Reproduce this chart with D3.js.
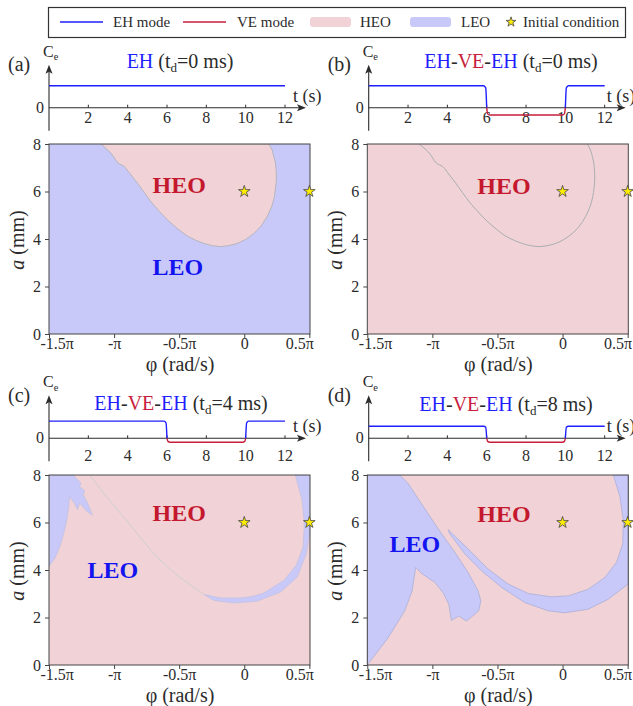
<!DOCTYPE html>
<html>
<head>
<meta charset="utf-8">
<script src="https://cdn.jsdelivr.net/npm/d3@7"></script>
<style>
  body { margin: 0; background: #fff; }
  text { font-family: "Liberation Serif", "Times New Roman", serif; fill: #2b2b2b; }
</style>
</head>
<body>
<svg id="chart" width="633" height="706"></svg>
<script>
// ---- control signal C_e(t), one series per panel ----
const tA = [0, 12];
const ceA = [1, 1];
const tSwitch = [0, 5.85, 5.95, 6.0, 6.05, 6.15, 9.85, 9.95, 10.0, 10.05, 10.15, 12];
const ceB = [1, 1, 0.9, 0, -0.28, -0.33, -0.33, -0.28, 0, 0.9, 1, 1];
const ceC = [0.78, 0.78, 0.7, 0, -0.14, -0.18, -0.18, -0.14, 0, 0.7, 0.78, 0.78];
const ceD = [0.55, 0.55, 0.5, 0, -0.14, -0.18, -0.18, -0.14, 0, 0.5, 0.55, 0.55];
const tTicks = [2, 4, 6, 8, 10, 12];

// ---- basin axes ----
const phiTicks = [-1.5, -1, -0.5, 0, 0.5];
const phiLabels = ["-1.5\u03c0", "-\u03c0", "-0.5\u03c0", "0", "0.5\u03c0"];
const aTicks = [0, 2, 4, 6, 8];
const initial = [[0, 6], [0.5, 6]];   // (phi/pi, a)

// ---- basin boundaries, (phi/pi, a mm) ----
const heoA = [[-1.1, 8], [-1.023, 7.61], [-0.97, 7.2], [-0.921, 7.05], [-0.87, 6.7], [-0.819, 6.34], [-0.717, 5.57],
  [-0.65, 5.15], [-0.589, 4.8], [-0.51, 4.42], [-0.436, 4.12], [-0.37, 3.94], [-0.309, 3.81], [-0.245, 3.72], [-0.181, 3.68],
  [-0.12, 3.72], [-0.054, 3.81], [0.01, 3.98], [0.074, 4.23], [0.13, 4.55], [0.176, 4.94], [0.21, 5.35], [0.232, 5.78],
  [0.247, 6.48], [0.245, 6.85], [0.24, 7.19], [0.214, 7.75], [0.19, 8]];

const leoC1 = [[-1.5, 8], [-1.311, 8], [-1.29, 7.85], [-1.254, 7.66], [-1.265, 7.52], [-1.226, 7.33], [-1.238, 7.19],
  [-1.208, 6.86], [-1.165, 6.3], [-1.221, 6.54], [-1.265, 6.82], [-1.28, 6.54], [-1.311, 6.86], [-1.342, 7.1],
  [-1.349, 6.65], [-1.36, 6.2], [-1.375, 5.81], [-1.395, 5.38], [-1.418, 4.96], [-1.455, 4.5], [-1.5, 4.15]];
const leoC2 = [[0.393, 8], [0.444, 6.94], [0.462, 5.96], [0.452, 4.97], [0.4, 4.2], [0.304, 3.56], [0.151, 3.03],
  [0.06, 2.88], [-0.028, 2.82], [-0.181, 2.82], [-0.309, 2.97], [-0.232, 2.72], [-0.079, 2.61], [0.099, 2.69],
  [0.278, 3.07], [0.406, 3.7], [0.477, 4.69], [0.5, 5.5], [0.505, 8]];
const edgeC = [[-1.189, 8], [-1.099, 7.37], [-0.972, 6.52], [-0.844, 5.68], [-0.717, 4.83], [-0.589, 4.13],
  [-0.462, 3.56], [-0.309, 2.97]];

const leoD1 = [[-1.5, 8], [-1.5, 0], [-1.341, 1.14], [-1.213, 2.28], [-1.156, 3.12], [-1.128, 4.11], [-1.085, 3.86],
  [-0.982, 3.48], [-0.918, 3.05], [-0.874, 2.56], [-0.854, 1.88], [-0.797, 2.06], [-0.738, 1.85], [-0.644, 2.28],
  [-0.628, 2.7], [-0.649, 3.12], [-0.726, 3.9], [-0.828, 4.75], [-0.956, 5.74], [-1.085, 6.8], [-1.187, 7.65], [-1.251, 8]];
const leoD2 = [[0.39, 8], [0.441, 7.08], [0.467, 6.09], [0.462, 5.1], [0.415, 4.33], [0.326, 3.69], [0.197, 3.19],
  [0.044, 2.91], [-0.085, 2.87], [-0.264, 3.01], [-0.418, 3.41], [-0.572, 4.04], [-0.726, 4.89], [-0.879, 5.7],
  [-0.867, 5.53], [-0.751, 4.68], [-0.623, 3.97], [-0.469, 3.27], [-0.29, 2.63], [-0.11, 2.28], [0.018, 2.2],
  [0.197, 2.35], [0.351, 2.77], [0.505, 3.41], [0.505, 8]];

const LEO_FILL = "#c9c9f9", HEO_FILL = "#f1d2d6", EDGE = "#a9aeb2";
const BLUE = "#1f1fff", RED = "#c81e3c", HEO_TXT = "#c4182f", LEO_TXT = "#1414f0", INK = "#2b2b2b";

const eh = [{ s: "EH", c: BLUE }];
const eve = [{ s: "EH", c: BLUE }, { s: "-" }, { s: "VE", c: RED }, { s: "-" }, { s: "EH", c: BLUE }];

const panels = [
  { tag: "(a)", col: 0, row: 0, t: tA, ce: ceA, head: eh, td: "0", tx: 180, ty: 68,
    bg: LEO_FILL, fills: [{ pts: heoA, fill: HEO_FILL, edge: EDGE }], edges: [], heo: [-0.5, 6.27], leo: [-0.51, 2.82] },
  { tag: "(b)", col: 1, row: 0, t: tSwitch, ce: ceB, head: eve, td: "0", tx: 511, ty: 68,
    bg: HEO_FILL, fills: [], edges: [{ pts: heoA, c: EDGE }], heo: [-0.45, 6.23], leo: null },
  { tag: "(c)", col: 0, row: 1, t: tSwitch, ce: ceC, head: eve, td: "4", tx: 181, ty: 410,
    bg: HEO_FILL, fills: [{ pts: leoC1, fill: LEO_FILL, edge: "#c2c2e2" }, { pts: leoC2, fill: LEO_FILL, edge: "#c2c2e2" }],
    edges: [{ pts: edgeC, c: "#cdd0d2" }], heo: [-0.5, 6.4], leo: [-1.01, 4.03] },
  { tag: "(d)", col: 1, row: 1, t: tSwitch, ce: ceD, head: eve, td: "8", tx: 506, ty: 411,
    bg: HEO_FILL, fills: [{ pts: leoD1, fill: LEO_FILL, edge: "#aab0d8" }, { pts: leoD2, fill: LEO_FILL, edge: "#aab0d8" }],
    edges: [], heo: [-0.45, 6.39], leo: [-1.135, 5.1] }
];

const svg = d3.select("#chart");
svg.append("rect").attr("width", 633).attr("height", 706).attr("fill", "#fff");

// ---- legend ----
const lg = svg.append("g");
lg.append("rect").attr("x", 48.5).attr("y", 7.5).attr("width", 577).attr("height", 30)
  .attr("fill", "#fff").attr("stroke", "#333").attr("stroke-width", 1.2);
lg.append("line").attr("x1", 60).attr("x2", 103).attr("y1", 22).attr("y2", 22).attr("stroke", BLUE).attr("stroke-width", 1.5);
lg.append("text").attr("x", 113).attr("y", 27).attr("font-size", 15).text("EH mode");
lg.append("line").attr("x1", 183).attr("x2", 226).attr("y1", 22).attr("y2", 22).attr("stroke", RED).attr("stroke-width", 1.5);
lg.append("text").attr("x", 237).attr("y", 27).attr("font-size", 15).text("VE mode");
lg.append("rect").attr("x", 310).attr("y", 17).attr("width", 41).attr("height", 10).attr("rx", 3).attr("fill", HEO_FILL);
lg.append("text").attr("x", 360).attr("y", 27).attr("font-size", 15).text("HEO");
lg.append("rect").attr("x", 410).attr("y", 17).attr("width", 41).attr("height", 10).attr("rx", 3).attr("fill", LEO_FILL);
lg.append("text").attr("x", 461).attr("y", 27).attr("font-size", 15).text("LEO");
lg.append("path").attr("d", d3.symbol(d3.symbolStar, 30)()).attr("transform", "translate(511,22)")
  .attr("fill", "#ffee00").attr("stroke", "#444").attr("stroke-width", 0.8);
lg.append("text").attr("x", 523).attr("y", 27).attr("font-size", 15).text("Initial condition");

// split a signal into sign-coloured pieces at its zero crossings
function pieces(t, ce) {
  const out = [];
  let cur = [[t[0], ce[0]]], sign = Math.sign(ce[0]);
  for (let i = 1; i < t.length; i++) {
    const p = [t[i], ce[i]];
    cur.push(p);
    if (ce[i] === 0 && i < t.length - 1) {
      out.push({ sign, pts: cur });
      cur = [p];
      sign = Math.sign(ce[i + 1]);
    }
  }
  out.push({ sign, pts: cur });
  return out;
}

function richText(sel, parts, size) {
  parts.forEach(p => {
    const ts = sel.append("tspan").text(p.s);
    if (p.c) ts.style("fill", p.c);
    if (p.sub) ts.attr("font-size", size * 0.65).attr("dy", size * 0.2);
    if (p.back) ts.attr("dy", -size * 0.2);
  });
}

panels.forEach((P, k) => {
  const bx = P.col ? 367.3 : 49;       // basin left
  const by = P.row ? 475 : 144;        // basin top
  const ox = P.col ? 368.7 : 49;       // time axis origin
  const oy = P.row ? 438.3 : 107.7;
  const dy = P.row ? 331 : 0;

  // ---------- time strip ----------
  const g = svg.append("g");
  const xt = d3.scaleLinear().domain([0, 12]).range([ox, ox + 236]);
  const yc = d3.scaleLinear().domain([-1, 1]).range([oy + 22, oy - 22]);

  g.append("line").attr("x1", ox).attr("x2", ox + 250).attr("y1", oy).attr("y2", oy).attr("stroke", INK).attr("stroke-width", 1.1);
  g.append("path").attr("d", `M${ox + 257},${oy} L${ox + 248},${oy - 3.5} L${ox + 250},${oy} L${ox + 248},${oy + 3.5} Z`).attr("fill", INK);
  g.append("line").attr("x1", ox).attr("x2", ox).attr("y1", oy + 23).attr("y2", oy - 36).attr("stroke", INK).attr("stroke-width", 1.1);
  g.append("path").attr("d", `M${ox},${oy - 43} L${ox - 3.5},${oy - 34} L${ox},${oy - 36} L${ox + 3.5},${oy - 34} Z`).attr("fill", INK);

  const labY = P.row ? oy + 23 : oy + 15.5;
  tTicks.forEach(v => {
    g.append("line").attr("x1", xt(v)).attr("x2", xt(v)).attr("y1", oy).attr("y2", oy - 3).attr("stroke", INK);
    g.append("text").attr("x", xt(v)).attr("y", labY).attr("text-anchor", "middle").attr("font-size", 16).text(v);
  });
  g.append("text").attr("x", ox - 5).attr("y", oy + 5).attr("text-anchor", "end").attr("font-size", 16).text("0");
  g.append("text").attr("x", P.col ? 606.7 : 293).attr("y", oy - 6).attr("font-size", 18).text("t (s)");
  richText(g.append("text").attr("x", ox - 6).attr("y", oy - 51).attr("font-size", 16),
    [{ s: "C" }, { s: "e", sub: true }], 16);
  g.append("text").attr("x", ox - 41).attr("y", 71 + dy).attr("font-size", 20).text(P.tag);

  const title = g.append("text").attr("x", P.tx).attr("y", P.ty).attr("text-anchor", "middle").attr("font-size", 20);
  richText(title, [...P.head, { s: " (t" }, { s: "d", sub: true }, { s: "=" + P.td + " ms)", back: true }], 20);

  const line = d3.line().x(d => xt(d[0])).y(d => yc(d[1])).curve(d3.curveMonotoneX);
  pieces(P.t, P.ce).forEach(s => {
    g.append("path").attr("d", line(s.pts)).attr("fill", "none")
      .attr("stroke", s.sign < 0 ? RED : BLUE).attr("stroke-width", 1.4);
  });

  // ---------- basin ----------
  const x = d3.scaleLinear().domain([-1.5, 0.505]).range([bx, bx + 261]);
  const y = d3.scaleLinear().domain([0, 8]).range([by + 190, by]);
  const b = svg.append("g");
  const cid = "clip" + k;
  b.append("clipPath").attr("id", cid).append("rect")
    .attr("x", bx).attr("y", by).attr("width", 261).attr("height", 190);
  const area = b.append("g").attr("clip-path", `url(#${cid})`);
  area.append("rect").attr("x", bx).attr("y", by).attr("width", 261).attr("height", 190).attr("fill", P.bg);

  const poly = d3.line().x(d => x(d[0])).y(d => y(d[1])).curve(d3.curveLinearClosed);
  const open = d3.line().x(d => x(d[0])).y(d => y(d[1])).curve(d3.curveCatmullRom);
  P.fills.forEach(f => {
    area.append("path").attr("d", poly(f.pts)).attr("fill", f.fill)
      .attr("stroke", f.edge).attr("stroke-width", 0.8).attr("stroke-linejoin", "round");
  });
  P.edges.forEach(e => {
    area.append("path").attr("d", open(e.pts)).attr("fill", "none").attr("stroke", e.c).attr("stroke-width", 1);
  });

  b.append("rect").attr("x", bx).attr("y", by).attr("width", 261).attr("height", 190)
    .attr("fill", "none").attr("stroke", "#444").attr("stroke-width", 1);

  const xa = b.append("g").attr("transform", `translate(0,${by + 190})`)
    .call(d3.axisBottom(x).tickValues(phiTicks).tickSize(4).tickSizeOuter(0).tickFormat((d, i) => phiLabels[i]));
  const ya = b.append("g").attr("transform", `translate(${bx},0)`)
    .call(d3.axisLeft(y).tickValues(aTicks).tickSize(4).tickSizeOuter(0));
  [xa, ya].forEach(a => {
    a.select(".domain").remove();
    a.selectAll("line").attr("stroke", "#444");
    a.selectAll("text").attr("font-size", 16).style("fill", INK);
  });
  xa.selectAll("text").attr("y", 15).attr("dy", 0);
  xa.selectAll("text").filter((d, i) => i === 0).attr("text-anchor", "start").attr("dx", -9);
  xa.selectAll("text").filter((d, i) => i === phiTicks.length - 1).attr("text-anchor", "end").attr("dx", 4);
  ya.selectAll("text").attr("dx", -1);

  b.append("text").attr("x", bx + 131).attr("y", by + 226.5).attr("text-anchor", "middle").attr("font-size", 20)
    .text("\u03c6 (rad/s)");
  const yl = b.append("text").attr("transform", `translate(${bx - 25},${by + 96}) rotate(-90)`)
    .attr("text-anchor", "middle").attr("font-size", 20);
  yl.append("tspan").attr("font-style", "italic").text("a");
  yl.append("tspan").text(" (mm)");

  b.append("text").attr("x", x(P.heo[0])).attr("y", y(P.heo[1])).attr("dy", "0.35em").attr("text-anchor", "middle")
    .attr("font-size", 24).attr("font-weight", "bold").style("fill", HEO_TXT).text("HEO");
  if (P.leo) {
    b.append("text").attr("x", x(P.leo[0])).attr("y", y(P.leo[1])).attr("dy", "0.35em").attr("text-anchor", "middle")
      .attr("font-size", 24).attr("font-weight", "bold").style("fill", LEO_TXT).text("LEO");
  }

  b.selectAll(".star").data(initial).join("path")
    .attr("d", d3.symbol(d3.symbolStar, 42)())
    .attr("transform", d => `translate(${x(d[0])},${y(d[1])})`)
    .attr("fill", "#ffee00").attr("stroke", "#444").attr("stroke-width", 0.8);
});
</script>
</body>
</html>
